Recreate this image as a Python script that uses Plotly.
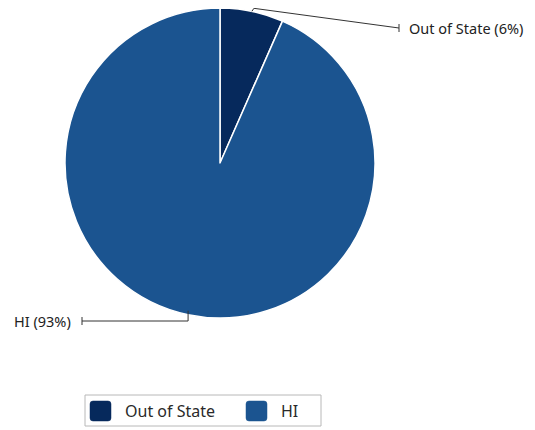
import math
import plotly.graph_objects as go

labels = ["Out of State", "HI"]
values = [6.6, 93.4]
pct_text = ["6%", "93%"]
colors = ["#06295c", "#1b5490"]

OFF = 8  # page body margin
W, H = 535 - 2 * OFF, 430 - OFF
cx, cy, r = 220, 163, 155
FONT = "Noto Sans"

def px(x, y):
    return (x - OFF) / W, 1 - (y - OFF) / H

def path_of(pts):
    return "M " + " L ".join("{},{}".format(*px(a, b)) for a, b in pts)

fig = go.Figure()
x0, y0 = px(cx - r, cy + r)
x1, y1 = px(cx + r, cy - r)
fig.add_trace(go.Pie(
    labels=labels, values=values, sort=False, direction="clockwise", rotation=0,
    marker=dict(colors=colors, line=dict(color="white", width=1.5)),
    textinfo="none", hoverinfo="label+percent", showlegend=False,
    domain=dict(x=[x0, x1], y=[y0, y1]),
))

# leader lines built from slice mid-angles
total = sum(values)
cum = 0
ends = [(399, 28, "left"), (82, 321, "right")]
for v, lab, pt, (ex, ey, side) in zip(values, labels, pct_text, ends):
    mid = (cum + v / 2) / total * 2 * math.pi
    cum += v
    sx = cx + r * math.sin(mid)
    sy = cy - r * math.cos(mid)
    if side == "left":
        pts = [(sx, sy), (sx + 2, sy - 3), (ex, ey)]
    else:
        pts = [(sx, sy - 4), (sx, ey), (ex, ey)]
    fig.add_shape(type="path", path=path_of(pts), xref="paper", yref="paper",
                  line=dict(color="#333333", width=1))
    fig.add_shape(type="path", path=path_of([(ex, ey - 4), (ex, ey + 4)]),
                  xref="paper", yref="paper", line=dict(color="#333333", width=1))
    tx = ex + 8 if side == "left" else ex - 9
    fig.add_annotation(x=px(tx, ey)[0], y=px(tx, ey)[1], xref="paper", yref="paper",
                       text=f"{lab} ({pt})", showarrow=False,
                       xanchor=side, yanchor="middle",
                       font=dict(family=FONT, size=14.5, color="#222222"))

# legend box
fig.add_shape(type="path", path=path_of([(85, 395), (321, 395), (321, 426), (85, 426)]) + " Z",
              xref="paper", yref="paper", line=dict(color="#b8b8b8", width=1))
sw_x = [90, 246]
for lab, col, sx in zip(labels, colors, sw_x):
    a, b, c, d, k = sx, 401, sx + 21, 421, 3
    p = lambda x, y: "{},{}".format(*px(x, y))
    path = (f"M {p(a + k, b)} L {p(c - k, b)} Q {p(c, b)} {p(c, b + k)} "
            f"L {p(c, d - k)} Q {p(c, d)} {p(c - k, d)} L {p(a + k, d)} "
            f"Q {p(a, d)} {p(a, d - k)} L {p(a, b + k)} Q {p(a, b)} {p(a + k, b)} Z")
    fig.add_shape(type="path", path=path, xref="paper", yref="paper",
                  fillcolor=col, line=dict(color=col, width=0.5))
    tx, ty = px(sx + 33, 411)
    fig.add_annotation(x=tx, y=ty, xref="paper", yref="paper", text=lab,
                       showarrow=False, xanchor="left", yanchor="middle",
                       font=dict(family=FONT, size=16, color="#2a2a2a"))

fig.update_layout(
    width=W, height=H, margin=dict(l=0, r=0, t=0, b=0),
    paper_bgcolor="white", plot_bgcolor="white",
    showlegend=False,
)

fig.write_html("out.html")
